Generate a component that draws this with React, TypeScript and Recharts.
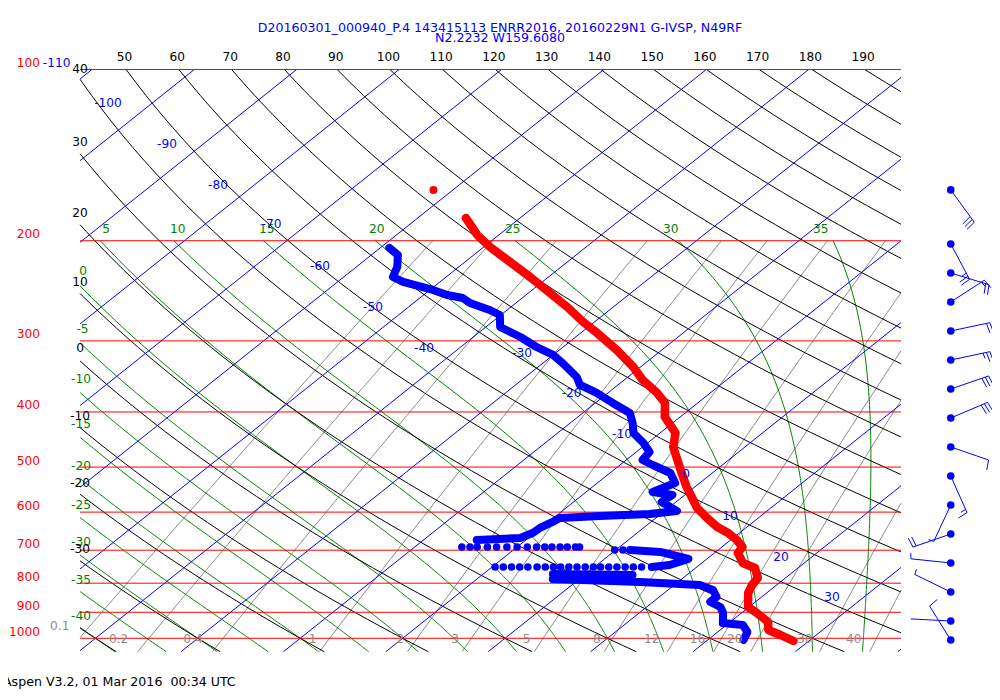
import React from 'react';
import { ComposedChart, Line, Scatter, XAxis, YAxis } from 'recharts';

// ---------- diagram geometry ----------
const K_SKEW = 30.25;
const KAPPA = 0.288;
const X_MIN = -48.54;
const X_MAX = 48.34;
const P_DOMAIN_TOP = 77.95;
const P_DOMAIN_BOT = 1283.8;
const BOX_XL = -41.5;
const BOX_XR = 38.67;
const BOX_PT = 100;
const BOX_PB = 1055.7;
const MOIST_TOP_P = 200;
const MIX_TOP_P = 200;
const BARB_X = 43.53;

// ---------- background line sets ----------
const isobarP = [100, 200, 300, 400, 500, 600, 700, 800, 900, 1000];
const isothermT = [-110, -100, -90, -80, -70, -60, -50, -40, -30, -20, -10, 0, 10, 20, 30, 40];
const dryThetaC = [-40, -30, -20, -10, 0, 10, 20, 30, 40, 50, 60, 70, 80, 90, 100, 110, 120, 130, 140, 150, 160, 170, 180, 190];
const moistThetaW = [-40, -35, -30, -25, -20, -15, -10, -5, 0, 5, 10, 15, 20, 25, 30, 35];
const mixRatioGkg = [0.1, 0.2, 0.4, 1, 2, 3, 5, 8, 12, 16, 20, 30, 40];

// ---------- sounding ----------
const tempFirstP = [162.8];
const tempFirstT = [-61.9];
const tempP = [182.4, 195.4, 205.1, 216.2, 231.6, 247.1, 261.5, 277.9, 290.5, 311.2, 333.4, 351.4, 370.4, 385.7, 408.2, 435.5, 460.9, 485.8, 512.1, 541.9, 566.7, 590.1, 614.5, 637.3, 652.9, 671.7, 691.0, 708.0, 737.2, 752.3, 783.4, 805.9, 832.4, 881.0, 902.7, 936.1, 967.0, 986.7, 1011];
const tempT = [-55.3, -52.1, -49.4, -46.1, -41.8, -37.9, -34.5, -31.1, -28.4, -24.4, -20.7, -18.2, -15.2, -13.2, -11.5, -8.5, -7.0, -5.0, -3.0, -0.8, 1.1, 2.8, 5.0, 7.1, 8.9, 10.6, 12.0, 12.3, 14.0, 15.8, 17.3, 17.6, 18.2, 19.9, 21.5, 23.7, 24.7, 26.5, 28.5];

const dewUpperP = [205.9, 211.9, 222.4, 231.6, 236.3, 244.1, 249.1, 252.2, 257.3, 264.7, 270.1, 283.6, 295.3, 307.5, 317.6, 328.1, 347.2, 358.6, 370.4, 385.7, 401.7, 418.3, 435.5, 453.5, 470.3, 485.8, 495.8, 512.1, 533.3, 553.1, 559.8, 575.9, 597.3, 604.6, 609.5, 614.5, 624.4, 639.8, 652.9, 666.2, 671.7];
const dewUpperT = [-59.1, -57.4, -56.0, -55.2, -53.6, -49.7, -47.7, -45.8, -44.5, -41.7, -40.1, -38.6, -35.4, -32.6, -30.0, -28.1, -25.0, -23.7, -21.1, -18.3, -15.4, -13.9, -12.6, -10.4, -8.7, -8.4, -6.8, -4.1, -2.4, -3.5, -1.2, -1.4, 1.2, -1.1, -5.7, -9.4, -9.6, -10.1, -10.2, -10.8, -14.8];

const dewDotsP = [691.0, 691.0, 691.0, 691.0, 691.0, 691.0, 691.0, 691.0, 691.0, 691.0, 691.0, 691.0, 691.0, 691.0, 691.0, 699.4, 699.4,
  749.3, 749.3, 749.3, 749.3, 749.3, 749.3, 749.3, 749.3, 749.3, 749.3, 749.3, 749.3, 749.3, 749.3, 749.3, 749.3, 749.3, 749.3, 749.3];
const dewDotsT = [-15.4, -14.6, -13.9, -12.9, -12.0, -11.0, -10.0, -9.0, -8.1, -7.3, -6.6, -5.8, -5.1, -4.3, -3.9, -0.1, 0.7,
  -9.7, -8.9, -8.1, -7.3, -6.5, -5.6, -4.8, -4.0, -3.3, -2.5, -1.7, -0.9, -0.1, 0.6, 1.4, 2.2, 3.0, 3.8, 4.6];

const dewMidP = [699.4, 705.1, 725.4, 743.2, 749.3];
const dewMidT = [1.4, 4.6, 8.2, 7.1, 5.6];

const dewLowerP = [770.8, 773.9, 786.6, 796.2, 805.9, 822.4, 846.0, 863.3, 881.0, 902.7, 940.0, 947.6, 974.8, 1006.9];
const dewLowerT = [-3.2, 4.7, -2.6, 6.3, 12.5, 14.4, 15.6, 15.6, 17.2, 18.2, 19.4, 21.6, 22.9, 23.5];

// ---------- winds ----------
const barbP = [162.8, 202.6, 227.9, 256.3, 288.2, 324.1, 364.5, 409.9, 460.9, 518.4, 582.9, 655.6, 737.2, 829.1, 932.4, 1006.9];
const barbDir = [144, 152, 107, 57, 78, 78, 71, 67, 109, 156, 205, 251, 276, 296, 273, 328];
const barbSpd = [30, 25, 20, 15, 20, 25, 30, 30, 10, 15, 5, 20, 5, 5, 0, 10];

// ---------- labels ----------
const topThetaLabels = [50, 60, 70, 80, 90, 100, 110, 120, 130, 140, 150, 160, 170, 180, 190];
const dryLeftText = ['40', '30', '20', '10', '0', '-10', '-20', '-30'];
const dryLeftP = [99.6, 133.9, 178.5, 236.1, 309.1, 406.1, 532.6, 697.5];
const moistLeftText = ['0', '-5', '-10', '-15', '-20', '-25', '-30', '-35', '-40'];
const moistLeftX = [-41.21, -41.26, -41.41, -41.41, -41.41, -41.41, -41.41, -41.41, -41.41];
const moistLeftP = [225.8, 285.9, 350.0, 420.0, 497.2, 582.9, 678.0, 788.8, 912.6];
const moistTopText = ['5', '10', '15', '20', '25', '30', '35'];
const moistTopX = [-38.96, -31.95, -23.27, -12.52, 0.76, 16.19, 30.84];
const moistTopP = 190.5;
const isoLabelText = ['-100', '-90', '-80', '-70', '-60', '-50', '-40', '-30', '-20', '-10', '0', '10', '20', '30'];
const isoLabelX = [-38.77, -33.01, -28.03, -22.8, -18.07, -12.89, -7.91, 1.66, 6.5, 11.43, 17.68, 21.97, 26.95, 31.93];
const isoLabelP = [114.5, 135.2, 159.6, 187.0, 221.5, 261.5, 308.7, 315.0, 370.4, 437.3, 514.2, 609.5, 719.6, 846.0];
const mixLabelText = ['0.1', '0.2', '0.4', '1', '2', '3', '5', '8', '12', '16', '20', '30', '40'];
const mixLabelX = [-43.48, -37.74, -30.47, -18.8, -10.25, -4.88, 2.12, 8.96, 14.33, 18.8, 22.44, 29.28, 34.06];
const mixLabelP = [950.3, 1002.8, 1002.8, 1002.8, 1002.8, 1002.8, 1002.8, 1002.8, 1002.8, 1002.8, 1002.8, 1002.8, 1002.8];
const pressLabelX = -45.41;
const cornerIsoText = '-110';
const cornerIsoX = -45.14;

const titleLine1 = 'D20160301_000940_P.4 143415113 ENRR2016, 20160229N1 G-IVSP, N49RF';
const titleLine2 = 'N2.2232 W159.6080';
const footerText = 'Aspen V3.2, 01 Mar 2016  00:34 UTC';

// ---------- physics helpers ----------
const skewX = (t: number, p: number) => t + K_SKEW * Math.log(1000 / p);
const es = (tc: number) => 6.112 * Math.exp((17.67 * tc) / (tc + 243.5));
const dryT = (thetaC: number, p: number) => (thetaC + 273.15) * Math.pow(p / 1000, KAPPA) - 273.15;

function moistRate(Tk: number, p: number) {
  const e = es(Tk - 273.15);
  const rs = (0.622 * e) / (p - e);
  const Lv = 2.501e6, Rd = 287.04, cp = 1005.7, eps = 0.622;
  return ((Rd * Tk + Lv * rs) / p) / (cp + (Lv * Lv * rs * eps) / (Rd * Tk * Tk));
}

function integrate(T0: number, p0: number, p1: number, step: number) {
  const out: { p: number; t: number }[] = [{ p: p0, t: T0 - 273.15 }];
  let T = T0, p = p0;
  const dir = p1 < p0 ? -1 : 1;
  while ((p1 - p) * dir > 1e-6) {
    const h = dir * Math.min(step, Math.abs(p1 - p));
    const k1 = moistRate(T, p);
    const k2 = moistRate(T + (h / 2) * k1, p + h / 2);
    const k3 = moistRate(T + (h / 2) * k2, p + h / 2);
    const k4 = moistRate(T + h * k3, p + h);
    T += (h / 6) * (k1 + 2 * k2 + 2 * k3 + k4);
    p += h;
    out.push({ p, t: T - 273.15 });
  }
  return out;
}

const YL = Math.log(BOX_PT);
const YH = Math.log(BOX_PB);

function clipSeg(x0: number, y0: number, x1: number, y1: number) {
  let t0 = 0, t1 = 1;
  const dx = x1 - x0, dy = y1 - y0;
  const pp = [-dx, dx, -dy, dy];
  const qq = [x0 - BOX_XL, BOX_XR - x0, y0 - YL, YH - y0];
  for (let i = 0; i < 4; i++) {
    if (pp[i] === 0) {
      if (qq[i] < 0) return null;
    } else {
      const r = qq[i] / pp[i];
      if (pp[i] < 0) {
        if (r > t1) return null;
        if (r > t0) t0 = r;
      } else {
        if (r < t0) return null;
        if (r < t1) t1 = r;
      }
    }
  }
  return [x0 + t0 * dx, y0 + t0 * dy, x0 + t1 * dx, y0 + t1 * dy];
}

type Pt = { x: number; y: number | null };
function clipPoly(pts: { x: number; y: number }[]): Pt[] {
  const out: Pt[] = [];
  let last: { x: number; y: number } | null = null;
  for (let i = 0; i < pts.length - 1; i++) {
    const c = clipSeg(pts[i].x, pts[i].y, pts[i + 1].x, pts[i + 1].y);
    if (!c) { last = null; continue; }
    if (last && Math.abs(last.x - c[0]) < 1e-9 && Math.abs(last.y - c[1]) < 1e-9) {
      out.push({ x: c[2], y: c[3] });
    } else {
      if (out.length) out.push({ x: c[0], y: null });
      out.push({ x: c[0], y: c[1] });
      out.push({ x: c[2], y: c[3] });
    }
    last = { x: c[2], y: c[3] };
  }
  return out;
}

const logSpaced = (pa: number, pb: number, n: number) => {
  const r: number[] = [];
  for (let i = 0; i <= n; i++) r.push(pa * Math.pow(pb / pa, i / n));
  return r;
};

const toPt = (t: number, p: number) => ({ x: skewX(t, p), y: Math.log(p) });

const isobarLines = isobarP.map((p) => clipPoly([{ x: BOX_XL, y: Math.log(p) }, { x: BOX_XR, y: Math.log(p) }]));
const isothermLines = isothermT.map((t) => clipPoly([toPt(t, BOX_PB), toPt(t, BOX_PT)]));
const dryLines = dryThetaC.map((th) => clipPoly(logSpaced(BOX_PT, BOX_PB, 90).map((p) => toPt(dryT(th, p), p))));
const moistLines = moistThetaW.map((tw) => {
  const up = integrate(tw + 273.15, 1000, MOIST_TOP_P, 4).reverse();
  const down = integrate(tw + 273.15, 1000, BOX_PB, 4).slice(1);
  return clipPoly([...up, ...down].map((d) => toPt(d.t, d.p)));
});
const mixLines = mixRatioGkg.map((w) =>
  clipPoly(
    logSpaced(MIX_TOP_P, BOX_PB, 40).map((p) => {
      const e = (p * w) / (622 + w);
      const l = Math.log(e / 6.112);
      return toPt((243.5 * l) / (17.67 - l), p);
    })
  )
);

const series = (ps: number[], ts: number[]) => ps.map((p, i) => toPt(ts[i], p));
const tempData = series(tempP, tempT);
const tempFirstData = series(tempFirstP, tempFirstT);
const dewUpperData = series(dewUpperP, dewUpperT);
const dewDotsData = series(dewDotsP, dewDotsT);
const dewMidData = series(dewMidP, dewMidT);
const dewLowerData = series(dewLowerP, dewLowerT);
const barbData = barbP.map((p, i) => ({ x: BARB_X, y: Math.log(p), dir: barbDir[i], spd: barbSpd[i] }));

type Lab = { x: number; y: number; text: string; dy?: number };
const pressLabels: Lab[] = isobarP.map((p) => ({ x: pressLabelX, y: Math.log(p), text: String(p), dy: -6.5 }));
const topLabels: Lab[] = topThetaLabels.map((th) => ({ x: skewX(dryT(th, 100), 100) - 0.15, y: Math.log(100), text: String(th), dy: -13 }));
const dryLeftLabels: Lab[] = dryLeftText.map((t, i) => ({ x: BOX_XL, y: Math.log(dryLeftP[i]), text: t }));
const moistLeftLabels: Lab[] = moistLeftText.map((t, i) => ({ x: moistLeftX[i], y: Math.log(moistLeftP[i]), text: t }));
const moistTopLabels: Lab[] = moistTopText.map((t, i) => ({ x: moistTopX[i], y: Math.log(moistTopP), text: t }));
const isoLabels: Lab[] = isoLabelText.map((t, i) => ({ x: isoLabelX[i], y: Math.log(isoLabelP[i]), text: t }));
const mixLabels: Lab[] = mixLabelText.map((t, i) => ({ x: mixLabelX[i], y: Math.log(mixLabelP[i]), text: t }));
const cornerLabels: Lab[] = [{ x: cornerIsoX, y: Math.log(100), text: cornerIsoText, dy: -7 }];

const FONT = '"DejaVu Sans", Verdana, sans-serif';

const labelShape = (color: string, anchor: 'start' | 'middle' | 'end') => (props: any) => {
  const { cx, cy, payload } = props;
  if (cx == null || cy == null) return <g />;
  return (
    <text x={cx} y={cy + (payload.dy || 0)} fill={color} fontSize={12.2} fontFamily={FONT} textAnchor={anchor} dominantBaseline="central">
      {payload.text}
    </text>
  );
};

const dotShape = (color: string, r: number) => (props: any) => {
  const { cx, cy } = props;
  if (cx == null || cy == null) return <g />;
  return <circle cx={cx} cy={cy} r={r} fill={color} />;
};

const BarbShape = (props: any) => {
  const { cx, cy, payload } = props;
  if (cx == null || cy == null) return <g />;
  const th = (payload.dir * Math.PI) / 180;
  const dx = Math.sin(th), dy = -Math.cos(th);
  const len = 40;
  const ex = cx + dx * len, ey = cy + dy * len;
  const fx = -dy + dx * 0.15, fy = dx + dy * 0.15;
  const items: any[] = [<line key="s" x1={cx} y1={cy} x2={ex} y2={ey} />];
  let rem = payload.spd;
  let pos = 0;
  let i = 0;
  while (rem >= 10) {
    const sx = ex - dx * pos, sy = ey - dy * pos;
    items.push(<line key={'f' + i} x1={sx} y1={sy} x2={sx + fx * 10} y2={sy + fy * 10} />);
    pos += 3.5;
    rem -= 10;
    i++;
  }
  if (rem >= 5) {
    const sx = ex - dx * pos, sy = ey - dy * pos;
    items.push(<line key="h" x1={sx} y1={sy} x2={sx + fx * 5.5} y2={sy + fy * 5.5} />);
  }
  return (
    <g stroke="#0000ff" strokeWidth={1}>
      {items}
      <circle cx={cx} cy={cy} r={3.8} fill="#0000ff" stroke="none" />
    </g>
  );
};

const bgLine = (data: Pt[], color: string, key: string, width = 1) => (
  <Line key={key} data={data} dataKey="y" stroke={color} strokeWidth={width} dot={false} activeDot={false} isAnimationActive={false} connectNulls={false} />
);

export default function App() {
  return (
    <div style={{ position: 'relative', width: 992, height: 692 }}>
      <ComposedChart width={992} height={692} margin={{ top: 0, right: 0, bottom: 0, left: 0 }}>
        <XAxis type="number" dataKey="x" domain={[X_MIN, X_MAX]} allowDataOverflow hide />
        <YAxis type="number" dataKey="y" domain={[Math.log(P_DOMAIN_TOP), Math.log(P_DOMAIN_BOT)]} reversed allowDataOverflow hide />
        {mixLines.map((d, i) => bgLine(d, '#8c8c8c', 'mix' + i))}
        {moistLines.map((d, i) => bgLine(d, '#008000', 'moist' + i))}
        {dryLines.map((d, i) => bgLine(d, '#000000', 'dry' + i))}
        {isothermLines.map((d, i) => bgLine(d, '#0000ff', 'iso' + i))}
        {isobarLines.map((d, i) => bgLine(d, '#ff0000', 'bar' + i))}

        <Line data={dewUpperData} dataKey="y" stroke="#0000ff" strokeWidth={8} strokeLinecap="round" strokeLinejoin="round" dot={false} activeDot={false} isAnimationActive={false} />
        <Line data={dewMidData} dataKey="y" stroke="#0000ff" strokeWidth={8} strokeLinecap="round" strokeLinejoin="round" dot={false} activeDot={false} isAnimationActive={false} />
        <Line data={dewLowerData} dataKey="y" stroke="#0000ff" strokeWidth={8} strokeLinecap="round" strokeLinejoin="round" dot={false} activeDot={false} isAnimationActive={false} />
        <Scatter data={dewDotsData} shape={dotShape('#0000ff', 3.8)} isAnimationActive={false} />
        <Line data={tempData} dataKey="y" stroke="#ff0000" strokeWidth={8.5} strokeLinecap="round" strokeLinejoin="round" dot={false} activeDot={false} isAnimationActive={false} />
        <Scatter data={tempFirstData} shape={dotShape('#ff0000', 4)} isAnimationActive={false} />

        <Scatter data={barbData} shape={BarbShape} isAnimationActive={false} />

        <Scatter data={pressLabels} shape={labelShape('#ff0000', 'end')} isAnimationActive={false} />
        <Scatter data={cornerLabels} shape={labelShape('#0000ff', 'start')} isAnimationActive={false} />
        <Scatter data={topLabels} shape={labelShape('#000000', 'middle')} isAnimationActive={false} />
        <Scatter data={moistTopLabels} shape={labelShape('#008000', 'middle')} isAnimationActive={false} />
        <Scatter data={moistLeftLabels} shape={labelShape('#008000', 'middle')} isAnimationActive={false} />
        <Scatter data={dryLeftLabels} shape={labelShape('#000000', 'middle')} isAnimationActive={false} />
        <Scatter data={isoLabels} shape={labelShape('#0000ff', 'middle')} isAnimationActive={false} />
        <Scatter data={mixLabels} shape={labelShape('#8c8c8c', 'middle')} isAnimationActive={false} />
      </ComposedChart>
      <svg width={1000} height={700} style={{ position: 'absolute', left: -8, top: -8, pointerEvents: 'none' }}>
        <text x={500} y={27} fill="#0000ff" fontSize={12.6} fontFamily={FONT} textAnchor="middle" dominantBaseline="central">{titleLine1}</text>
        <text x={500} y={37} fill="#0000ff" fontSize={12.6} fontFamily={FONT} textAnchor="middle" dominantBaseline="central">{titleLine2}</text>
        <text x={3} y={681} fill="#000000" fontSize={12.6} fontFamily={FONT} textAnchor="start" dominantBaseline="central" style={{ whiteSpace: 'pre' }}>{footerText}</text>
      </svg>
    </div>
  );
}
